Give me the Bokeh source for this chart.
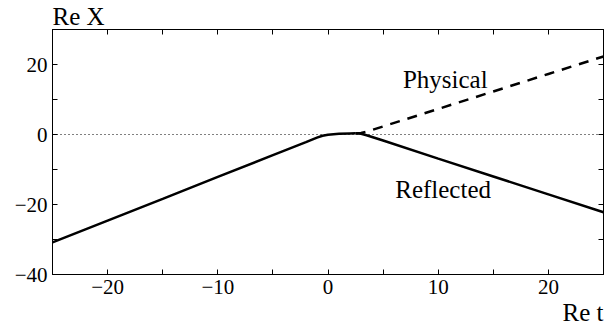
from bokeh.plotting import figure
from bokeh.models import LinearAxis, FixedTicker, Span, Label, Range1d, Title
from bokeh.embed import file_html
from bokeh.resources import INLINE

# --- data ---
t_common = [-25, -20, -15, -10, -5, -2, -1, -0.5, 0, 0.5, 1, 2, 2.5]
x_common = [-30.8, -24.6, -18.4, -12.1, -5.9, -2.2, -0.9, -0.35, -0.05, 0.1, 0.2, 0.3, 0.35]

t_reflected = [2.5, 3, 3.5, 4, 5, 10, 15, 20, 25]
x_reflected = [0.35, 0.2, -0.2, -0.7, -1.7, -6.9, -12.0, -17.1, -22.2]

t_physical = [2.5, 3, 3.5, 4, 5, 10, 15, 20, 25]
x_physical = [0.35, 0.45, 0.8, 1.3, 2.3, 7.3, 12.3, 17.3, 22.3]

x_ticks = [-25, -20, -15, -10, -5, 0, 5, 10, 15, 20, 25]
x_tick_labels = {-20: "\u221220", -10: "\u221210", 0: "0", 10: "10", 20: "20"}
y_ticks = [-40, -30, -20, -10, 0, 10, 20, 30]
y_tick_labels = {-40: "\u221240", -20: "\u221220", 0: "0", 20: "20"}

FONT = "Liberation Serif"

p = figure(width=605, height=325, output_backend="svg", toolbar_location=None,
           x_range=Range1d(-25, 25), y_range=Range1d(-40, 30),
           min_border_left=52, min_border_top=0, min_border_right=2,
           min_border_bottom=0, x_axis_location=None, y_axis_location=None)
p.grid.visible = False
p.outline_line_color = "black"
p.outline_line_width = 1
p.background_fill_color = "white"
p.border_fill_color = "white"


def make_axis(ticks, labels, show):
    ax = LinearAxis(ticker=FixedTicker(ticks=ticks))
    ax.major_label_overrides = {t: (labels.get(t, "") if show else "") for t in ticks}
    ax.major_tick_in = 5
    ax.major_tick_out = 0
    ax.minor_tick_in = 0
    ax.minor_tick_out = 0
    ax.axis_line_color = "black"
    ax.major_tick_line_color = "black"
    ax.major_label_text_font = FONT
    ax.major_label_text_font_size = "21px" if show else "0px"
    ax.major_label_text_color = "black"
    ax.major_label_standoff = 5 if show else 0
    return ax


p.add_layout(make_axis(x_ticks, x_tick_labels, True), "below")
p.add_layout(make_axis(x_ticks, x_tick_labels, False), "above")
p.add_layout(make_axis(y_ticks, y_tick_labels, True), "left")
p.add_layout(make_axis(y_ticks, y_tick_labels, False), "right")

# axis titles outside the frame
p.add_layout(Title(text="Re X", align="left", text_font=FONT,
                   text_font_size="25px", text_font_style="normal",
                   text_color="black", standoff=0), "above")
p.add_layout(Title(text="Re t", align="right", text_font=FONT,
                   text_font_size="25px", text_font_style="normal",
                   text_color="black", standoff=0), "below")

p.add_layout(Span(location=0, dimension="width", line_color="black",
                  line_width=1.2, line_dash="1 3"))

p.line(t_common, x_common, line_color="black", line_width=2.5)
p.line(t_reflected, x_reflected, line_color="black", line_width=2.5)
p.line(t_physical, x_physical, line_color="black", line_width=2.5, line_dash="10 8")


def lab(x, y, text):
    p.add_layout(Label(x=x, y=y, text=text, text_font=FONT,
                       text_font_size="25px", text_color="black",
                       text_align="left", text_baseline="bottom"))


lab(6.8, 11.9, "Physical")
lab(6.1, -19.5, "Reflected")

open("out.html", "w").write(file_html(p, INLINE))
